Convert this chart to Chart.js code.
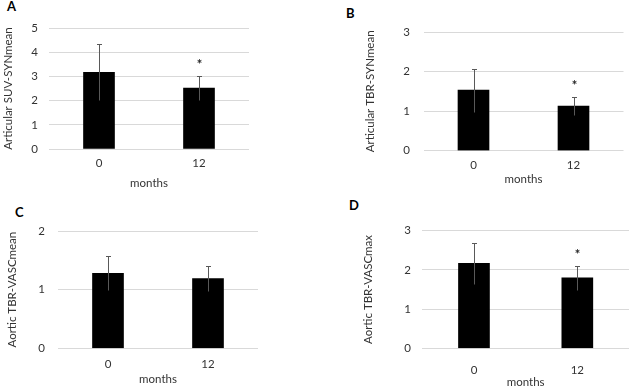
<!DOCTYPE html>
<html>
<head>
<meta charset="utf-8">
<script src="https://cdn.jsdelivr.net/npm/chart.js@4.4.1/dist/chart.umd.min.js"></script>
<style>
  body { margin: 0; background: #fff; width: 629px; height: 389px; position: relative; overflow: hidden; }
  canvas { position: absolute; }
  .tag { position: absolute; font: bold 13px Lato, sans-serif; line-height: 13px; color: #000; }
</style>
</head>
<body>
<div class="tag" style="left:7px;top:0px">A</div>
<div class="tag" style="left:346px;top:7px">B</div>
<div class="tag" style="left:15px;top:206px">C</div>
<div class="tag" style="left:349px;top:199px">D</div>

<canvas id="chartA" width="300" height="195" style="left:0px;top:0px"></canvas>
<canvas id="chartB" width="271" height="195" style="left:358px;top:0px"></canvas>
<canvas id="chartC" width="300" height="194" style="left:0px;top:195px"></canvas>
<canvas id="chartD" width="271" height="194" style="left:358px;top:195px"></canvas>

<script>
// data
const months = ['0', '12'];

const suvSynMean = [3.17, 2.52];
const suvSynMeanSd = [1.15, 0.50];
const suvSynMeanStar = [false, true];

const tbrSynMean = [1.53, 1.13];
const tbrSynMeanSd = [0.54, 0.22];
const tbrSynMeanStar = [false, true];

const tbrVascMean = [1.28, 1.19];
const tbrVascMeanSd = [0.29, 0.21];
const tbrVascMeanStar = [false, false];

const tbrVascMax = [2.17, 1.80];
const tbrVascMaxSd = [0.52, 0.30];
const tbrVascMaxStar = [false, true];

const textColor = '#333';
const fontFamily = 'Lato, sans-serif';

// error bars + asterisk
const errorBarPlugin = {
    id: 'errorBars',
    afterDatasetsDraw(chart) {
        const ctx = chart.ctx;
        const yScale = chart.scales.y;
        chart.data.datasets.forEach((ds, di) => {
            const meta = chart.getDatasetMeta(di);
            meta.data.forEach((bar, i) => {
                const v = ds.data[i];
                const e = ds.errors[i];
                const top = Math.round(yScale.getPixelForValue(v + e)) + 0.5;
                const bot = Math.round(yScale.getPixelForValue(v - e)) + 0.5;
                const x = Math.round(bar.x) + 0.5;
                ctx.save();
                ctx.strokeStyle = '#595959';
                ctx.lineWidth = 1;
                ctx.beginPath();
                ctx.moveTo(x, top);
                ctx.lineTo(x, bot);
                ctx.moveTo(x - 2.5, top);
                ctx.lineTo(x + 2.5, top);
                ctx.stroke();
                if (ds.stars[i]) {
                    ctx.fillStyle = '#222';
                    ctx.font = 'bold 13px ' + fontFamily;
                    ctx.textAlign = 'center';
                    ctx.textBaseline = 'middle';
                    ctx.fillText('*', x, top - 12);
                }
                ctx.restore();
            });
        });
    }
};

function makePanel(id, p) {
    return new Chart(document.getElementById(id), {
        type: 'bar',
        data: {
            labels: months,
            datasets: [{
                data: p.values,
                errors: p.sd,
                stars: p.stars,
                backgroundColor: '#000',
                barThickness: 31
            }]
        },
        options: {
            responsive: false,
            animation: false,
            layout: { padding: { top: p.padTop, right: p.padRight, left: 0, bottom: 0 } },
            plugins: { legend: { display: false }, tooltip: { enabled: false } },
            scales: {
                x: {
                    grid: { display: false },
                    border: { display: false },
                    ticks: { color: textColor, font: { family: fontFamily, size: 11.5 }, padding: p.xTickPad },
                    title: {
                        display: true, text: 'months', color: textColor,
                        font: { family: fontFamily, size: 11.5 },
                        padding: { top: 0, bottom: p.xTitlePad }
                    },
                    afterFit(scale) { scale.height = p.xHeight; }
                },
                y: {
                    min: 0,
                    max: p.max,
                    grid: { color: '#d9d9d9', lineWidth: 1, drawTicks: false },
                    border: { display: false },
                    ticks: { stepSize: 1, color: textColor, font: { family: fontFamily, size: 11.5 }, padding: p.yTickPad },
                    title: {
                        display: true, text: p.title, color: textColor,
                        font: { family: fontFamily, size: 11.5 },
                        padding: { top: p.yTitlePad, bottom: 0 }
                    },
                    afterFit(scale) { scale.width = p.yWidth; }
                }
            }
        },
        plugins: [errorBarPlugin]
    });
}

makePanel('chartA', {
    values: suvSynMean, sd: suvSynMeanSd, stars: suvSynMeanStar,
    title: 'Articular SUV-SYNmean', max: 5,
    padTop: 28, padRight: 51, yWidth: 49, xHeight: 46,
    yTickPad: 11, yTitlePad: 1.4, xTickPad: -1, xTitlePad: 5
});

makePanel('chartB', {
    values: tbrSynMean, sd: tbrSynMeanSd, stars: tbrSynMeanStar,
    title: 'Articular TBR-SYNmean', max: 3,
    padTop: 32, padRight: 5.5, yWidth: 65.5, xHeight: 44.3,
    yTickPad: 13.5, yTitlePad: 5, xTickPad: -0.6, xTitlePad: 9
});

makePanel('chartC', {
    values: tbrVascMean, sd: tbrVascMeanSd, stars: tbrVascMeanStar,
    title: 'Aortic TBR-VASCmean', max: 2,
    padTop: 36, padRight: 42, yWidth: 58, xHeight: 40.7,
    yTickPad: 13, yTitlePad: 5, xTickPad: 0.8, xTitlePad: 3
});

makePanel('chartD', {
    values: tbrVascMax, sd: tbrVascMaxSd, stars: tbrVascMaxStar,
    title: 'Aortic TBR-VASCmax', max: 3,
    padTop: 35.7, padRight: 0, yWidth: 64.3, xHeight: 40.7,
    yTickPad: 11.3, yTitlePad: 3, xTickPad: 6.8, xTitlePad: 0
});
</script>
</body>
</html>
